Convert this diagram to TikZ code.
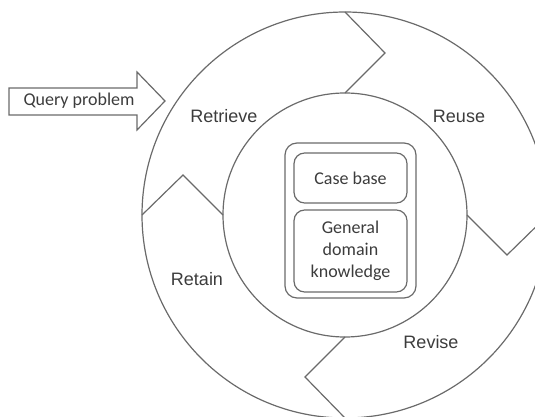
\documentclass[tikz,border=0pt]{standalone}
\usepackage{fontspec}
\setmainfont{Liberation Sans}
\newfontfamily\calib{Carlito}
\definecolor{linegray}{HTML}{6A6A6A}
\definecolor{txtgray}{HTML}{3C3C3C}
\begin{document}
\begin{tikzpicture}[x=0.75pt,y=-0.75pt,line width=0.9pt,
  ln/.style={draw=linegray},
  lbl/.style={font=\fontsize{13.5}{16}\selectfont,text=txtgray,inner sep=0pt},
  cal/.style={font=\calib\fontsize{13.5}{16.5}\selectfont,text=txtgray,inner sep=0pt,align=center},
  rbox/.style={draw=linegray,rounded corners=8pt,inner sep=0pt}]
\useasboundingbox (0,0) rectangle (535,417);
\clip (0,0) rectangle (535,417);
\coordinate (c) at (345,215);
% ring
\draw[ln] (c) circle[radius=203];
\draw[ln] (c) circle[radius=122];
% chevrons between the four phases
\draw[ln] (345,93) -- (385,53) -- (345,12);
\draw[ln] (467,215) -- (507,255) -- (548,215);
\draw[ln] (345,337) -- (305,377) -- (345,418);
\draw[ln] (223,215) -- (183,175) -- (142,215);
% phase labels
\node[lbl] (retrieve) at (224,116) {Retrieve};
\node[lbl] (reuse) at (459,116) {Reuse};
\node[lbl] (revise) at (431,342) {Revise};
\node[lbl] (retain) at (197,279) {Retain};
% knowledge container
\node[rbox,rounded corners=9pt,minimum width=98.25pt,minimum height=116.25pt] (kb) at (350.5,220.5) {};
\node[rbox,cal,minimum width=84.75pt,minimum height=37.5pt] (cases) at (350.5,178) {Case base};
\node[rbox,cal,minimum width=84.75pt,minimum height=61.5pt] (general) at (350.5,251) {General\\domain\\knowledge};
% query arrow
\draw[ln] (9,88) -- (137,88) -- (137,72) -- (165,101) -- (137,130) -- (137,115) -- (9,115) -- cycle;
\node[cal] (query) at (79,101) {Query problem};
\end{tikzpicture}
\end{document}
